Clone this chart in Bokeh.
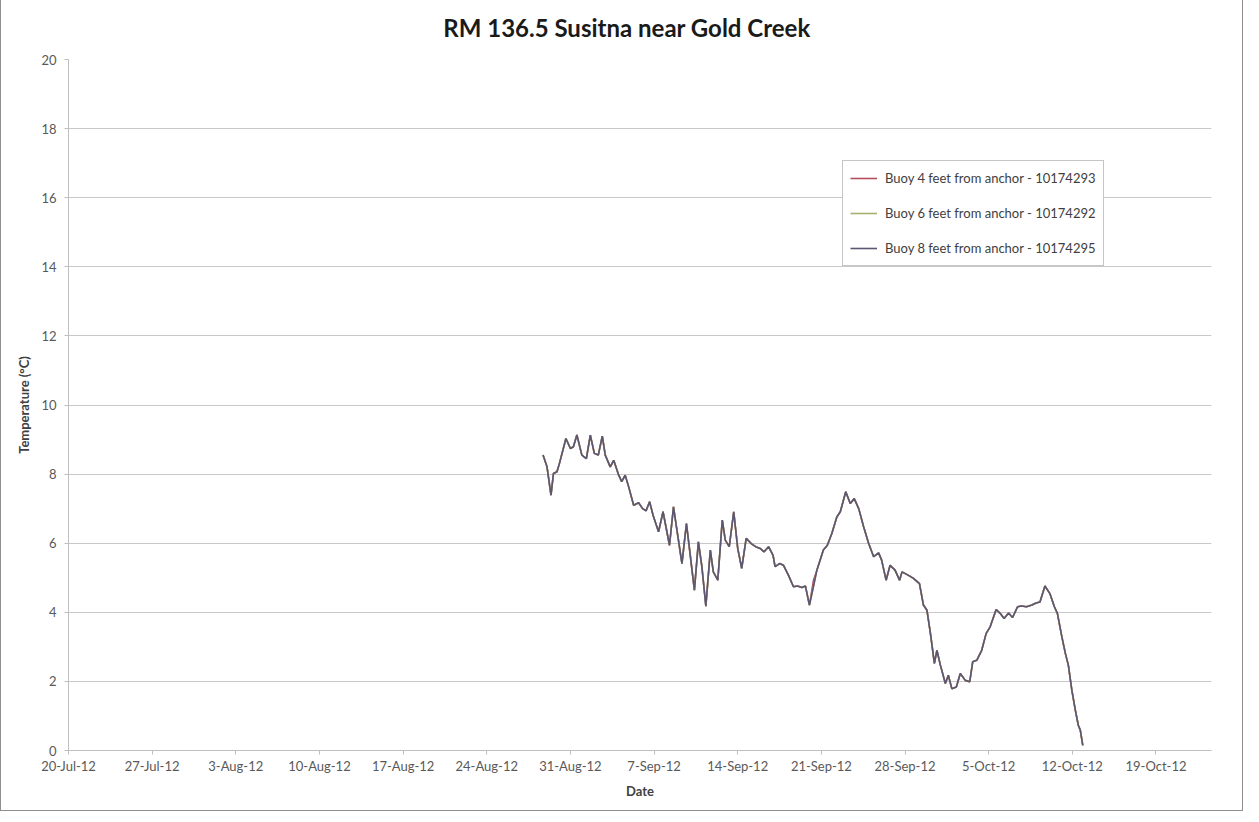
import pandas as pd
from datetime import datetime
from bokeh.plotting import figure
from bokeh.models import Range1d, FixedTicker, Legend, LegendItem
from bokeh.embed import file_html
from bokeh.resources import INLINE

title_text = "RM 136.5 Susitna near Gold Creek"
x_title = "Date"
y_title = "Temperature (°C)"
series_names = [
    "Buoy 4 feet from anchor - 10174293",
    "Buoy 6 feet from anchor - 10174292",
    "Buoy 8 feet from anchor - 10174295",
]
week_ticks = ["2012-07-20", "2012-07-27", "2012-08-03", "2012-08-10", "2012-08-17",
              "2012-08-24", "2012-08-31", "2012-09-07", "2012-09-14", "2012-09-21",
              "2012-09-28", "2012-10-05", "2012-10-12", "2012-10-19"]
week_labels = ["20-Jul-12", "27-Jul-12", "3-Aug-12", "10-Aug-12", "17-Aug-12",
               "24-Aug-12", "31-Aug-12", "7-Sep-12", "14-Sep-12", "21-Sep-12",
               "28-Sep-12", "5-Oct-12", "12-Oct-12", "19-Oct-12"]
y_ticks = [0, 2, 4, 6, 8, 10, 12, 14, 16, 18, 20]

times = [
    "2012-08-28 17:00", "2012-08-29 01:00", "2012-08-29 09:00", "2012-08-29 14:00", "2012-08-29 21:00",
    "2012-08-30 02:00", "2012-08-30 15:00", "2012-08-31 00:00", "2012-08-31 06:00", "2012-08-31 13:00",
    "2012-08-31 23:00", "2012-09-01 08:00", "2012-09-01 16:00", "2012-09-02 00:00", "2012-09-02 08:00",
    "2012-09-02 16:00", "2012-09-02 22:00", "2012-09-03 08:00", "2012-09-03 15:00", "2012-09-04 01:00",
    "2012-09-04 07:00", "2012-09-04 14:00", "2012-09-04 21:00", "2012-09-05 07:00", "2012-09-05 17:00",
    "2012-09-06 01:00", "2012-09-06 08:00", "2012-09-06 15:00", "2012-09-06 22:00", "2012-09-07 09:00",
    "2012-09-07 18:00", "2012-09-08 07:00", "2012-09-08 15:00", "2012-09-08 23:00", "2012-09-09 08:00",
    "2012-09-09 17:00", "2012-09-10 01:00", "2012-09-10 09:00", "2012-09-10 17:00", "2012-09-11 00:00",
    "2012-09-11 08:00", "2012-09-11 17:00", "2012-09-11 23:00", "2012-09-12 08:00", "2012-09-12 17:00",
    "2012-09-12 23:00", "2012-09-13 07:00", "2012-09-13 16:00", "2012-09-14 00:00", "2012-09-14 08:00",
    "2012-09-14 17:00", "2012-09-15 03:00", "2012-09-15 12:00", "2012-09-15 21:00", "2012-09-16 05:00",
    "2012-09-16 14:00", "2012-09-16 23:00", "2012-09-17 03:00", "2012-09-17 12:00", "2012-09-17 20:00",
    "2012-09-18 06:00", "2012-09-18 16:00", "2012-09-19 00:00", "2012-09-19 09:00", "2012-09-19 16:00",
    "2012-09-20 00:00", "2012-09-20 08:00", "2012-09-20 15:00", "2012-09-21 04:00", "2012-09-21 12:00",
    "2012-09-21 21:00", "2012-09-22 07:00", "2012-09-22 14:00", "2012-09-23 01:00", "2012-09-23 10:00",
    "2012-09-23 18:00", "2012-09-24 03:00", "2012-09-24 13:00", "2012-09-24 23:00", "2012-09-25 09:00",
    "2012-09-25 19:00", "2012-09-26 01:00", "2012-09-26 10:00", "2012-09-26 18:00", "2012-09-27 04:00",
    "2012-09-27 13:00", "2012-09-27 18:00", "2012-09-28 07:00", "2012-09-28 17:00", "2012-09-29 05:00",
    "2012-09-29 13:00", "2012-09-29 20:00", "2012-09-30 03:00", "2012-09-30 11:00", "2012-09-30 16:00",
    "2012-09-30 23:00", "2012-10-01 09:00", "2012-10-01 15:00", "2012-10-01 22:00", "2012-10-02 07:00",
    "2012-10-02 15:00", "2012-10-03 01:00", "2012-10-03 10:00", "2012-10-03 16:00", "2012-10-04 00:00",
    "2012-10-04 10:00", "2012-10-04 19:00", "2012-10-05 03:00", "2012-10-05 15:00", "2012-10-05 23:00",
    "2012-10-06 07:00", "2012-10-06 16:00", "2012-10-07 00:00", "2012-10-07 10:00", "2012-10-07 18:00",
    "2012-10-08 04:00", "2012-10-08 15:00", "2012-10-08 23:00", "2012-10-09 07:00", "2012-10-09 17:00",
    "2012-10-10 03:00", "2012-10-10 12:00", "2012-10-10 18:00", "2012-10-11 03:00", "2012-10-11 10:00",
    "2012-10-11 16:00", "2012-10-11 23:00", "2012-10-12 06:00", "2012-10-12 12:00", "2012-10-12 16:00",
    "2012-10-12 21:00",
]

buoy_4ft = [
    8.55, 8.21, 7.39, 8.02, 8.07, 8.31, 9.03, 8.74, 8.79, 9.13,
    8.55, 8.45, 9.13, 8.60, 8.55, 9.10, 8.55, 8.21, 8.40, 7.97,
    7.78, 7.97, 7.63, 7.10, 7.17, 7.00, 6.94, 7.20, 6.81, 6.33,
    6.91, 5.94, 7.05, 6.28, 5.41, 6.57, 5.61, 4.64, 6.04, 5.32,
    4.18, 5.80, 5.17, 4.93, 6.67, 6.09, 5.90, 6.91, 5.85, 5.27,
    6.14, 5.99, 5.90, 5.85, 5.75, 5.90, 5.65, 5.32, 5.41, 5.36,
    5.07, 4.74, 4.76, 4.72, 4.76, 4.21, 4.92, 5.22, 5.80, 5.94,
    6.28, 6.76, 6.91, 7.49, 7.15, 7.29, 7.00, 6.47, 5.99, 5.61,
    5.72, 5.51, 4.93, 5.36, 5.22, 4.93, 5.17, 5.07, 4.98, 4.83,
    4.21, 4.06, 3.39, 2.52, 2.90, 2.47, 1.94, 2.18, 1.79, 1.84,
    2.23, 2.03, 1.99, 2.57, 2.61, 2.90, 3.39, 3.58, 4.08, 3.97,
    3.82, 3.98, 3.85, 4.16, 4.18, 4.16, 4.21, 4.27, 4.30, 4.76,
    4.54, 4.16, 3.97, 3.29, 2.81, 2.47, 1.75, 1.17, 0.73, 0.59,
    0.15,
]
buoy_6ft = [
    8.55, 8.21, 7.39, 8.02, 8.07, 8.31, 9.03, 8.74, 8.79, 9.13,
    8.55, 8.45, 9.13, 8.60, 8.55, 9.10, 8.55, 8.21, 8.40, 7.97,
    7.78, 7.97, 7.63, 7.10, 7.17, 7.00, 6.94, 7.20, 6.81, 6.33,
    6.91, 5.94, 7.05, 6.28, 5.41, 6.57, 5.61, 4.64, 6.04, 5.32,
    4.18, 5.80, 5.17, 4.93, 6.67, 6.09, 5.90, 6.91, 5.85, 5.27,
    6.14, 5.99, 5.90, 5.85, 5.75, 5.90, 5.65, 5.32, 5.41, 5.36,
    5.07, 4.74, 4.76, 4.72, 4.76, 4.21, 4.74, 5.22, 5.80, 5.94,
    6.28, 6.76, 6.91, 7.49, 7.15, 7.29, 7.00, 6.47, 5.99, 5.61,
    5.72, 5.51, 4.93, 5.36, 5.22, 4.93, 5.17, 5.07, 4.98, 4.83,
    4.21, 4.06, 3.39, 2.52, 2.90, 2.47, 1.94, 2.18, 1.79, 1.84,
    2.23, 2.03, 1.99, 2.57, 2.61, 2.90, 3.39, 3.58, 4.08, 3.97,
    3.82, 3.98, 3.85, 4.16, 4.18, 4.16, 4.21, 4.27, 4.30, 4.76,
    4.54, 4.16, 3.97, 3.29, 2.81, 2.47, 1.75, 1.17, 0.73, 0.59,
    0.15,
]
buoy_8ft = [
    8.55, 8.21, 7.39, 8.02, 8.07, 8.31, 9.03, 8.74, 8.79, 9.13,
    8.55, 8.45, 9.13, 8.60, 8.55, 9.10, 8.55, 8.21, 8.40, 7.97,
    7.78, 7.97, 7.63, 7.10, 7.17, 7.00, 6.94, 7.20, 6.81, 6.33,
    6.91, 5.94, 7.05, 6.28, 5.41, 6.57, 5.61, 4.64, 6.04, 5.32,
    4.18, 5.80, 5.17, 4.93, 6.67, 6.09, 5.90, 6.91, 5.85, 5.27,
    6.14, 5.99, 5.90, 5.85, 5.75, 5.90, 5.65, 5.32, 5.41, 5.36,
    5.07, 4.74, 4.76, 4.72, 4.76, 4.21, 4.74, 5.22, 5.80, 5.94,
    6.28, 6.76, 6.91, 7.49, 7.15, 7.29, 7.00, 6.47, 5.99, 5.61,
    5.72, 5.51, 4.93, 5.36, 5.22, 4.93, 5.17, 5.07, 4.98, 4.83,
    4.21, 4.06, 3.39, 2.52, 2.90, 2.47, 1.94, 2.18, 1.79, 1.84,
    2.23, 2.03, 1.99, 2.57, 2.61, 2.90, 3.39, 3.58, 4.08, 3.97,
    3.82, 3.98, 3.85, 4.16, 4.18, 4.16, 4.21, 4.27, 4.30, 4.76,
    4.54, 4.16, 3.97, 3.29, 2.81, 2.47, 1.75, 1.17, 0.73, 0.59,
    0.15,
]

series_colors = ["#B4505E", "#A8B070", "#5C5672"]

x_times = pd.to_datetime(times)
tick_ms = [pd.Timestamp(d).value / 1e6 for d in week_ticks]

FONT = "Lato"
TXT = "#595959"
GRID = "#c8c8c8"

p = figure(
    width=1243, height=816,
    x_axis_type="datetime",
    x_range=Range1d(datetime(2012, 7, 20), datetime(2012, 10, 23, 15, 30)),
    y_range=Range1d(0, 20),
    output_backend="svg", toolbar_location=None,
    min_border_left=67, min_border_right=33, min_border_top=63, min_border_bottom=62,
)
p.margin = (-5, 0, 0, 0)
p.styles = {"border": "1px solid #8e8e8e"}

p.title.text = title_text
p.title.align = "center"
p.title.vertical_align = "top"
p.title.text_font = FONT
p.title.text_font_size = "24px"
p.title.text_font_style = "bold"
p.title.text_color = "#1a1a1a"
p.title.standoff = 31
p.title.padding = dict(left=0, right=26, top=0, bottom=0)

p.outline_line_color = None
p.xgrid.visible = False
p.ygrid.ticker = FixedTicker(ticks=y_ticks)
p.ygrid.grid_line_color = GRID

xa = p.xaxis[0]
xa.ticker = FixedTicker(ticks=tick_ms)
xa.major_label_overrides = {t: lab for t, lab in zip(tick_ms, week_labels)}
xa.axis_label = x_title
ya = p.yaxis[0]
ya.ticker = FixedTicker(ticks=y_ticks)
ya.axis_label = y_title

for ax in (xa, ya):
    ax.axis_line_color = "#bfbfbf"
    ax.major_tick_line_color = "#bfbfbf"
    ax.major_tick_out = 4
    ax.major_tick_in = 0
    ax.minor_tick_line_color = None
    ax.major_label_text_font = FONT
    ax.major_label_text_font_size = "13px"
    ax.major_label_text_color = TXT
    ax.axis_label_text_font = FONT
    ax.axis_label_text_font_size = "13px"
    ax.axis_label_text_font_style = "bold"
    ax.axis_label_text_color = "#404040"
xa.major_label_standoff = 3
xa.axis_label_standoff = 6
ya.major_label_standoff = 8
ya.axis_label_standoff = 6

renderers = []
for vals, col in zip([buoy_4ft, buoy_6ft, buoy_8ft], series_colors):
    r = p.line(x_times, vals, line_color=col, line_width=1.6)
    renderers.append(r)

legend_items = [LegendItem(label=name, renderers=[r]) for name, r in zip(series_names, renderers)]
legend = Legend(
    items=legend_items,
    location=(774, 484),
    padding=7, spacing=15, margin=0,
    glyph_width=27, glyph_height=20, label_height=20, label_standoff=8,
    label_text_font=FONT, label_text_font_size="13px", label_text_color="#404040",
    border_line_color="#8c8c8c", border_line_width=1,
    background_fill_color="white", background_fill_alpha=1.0,
)
p.add_layout(legend)

open("out.html", "w").write(file_html(p, INLINE))
